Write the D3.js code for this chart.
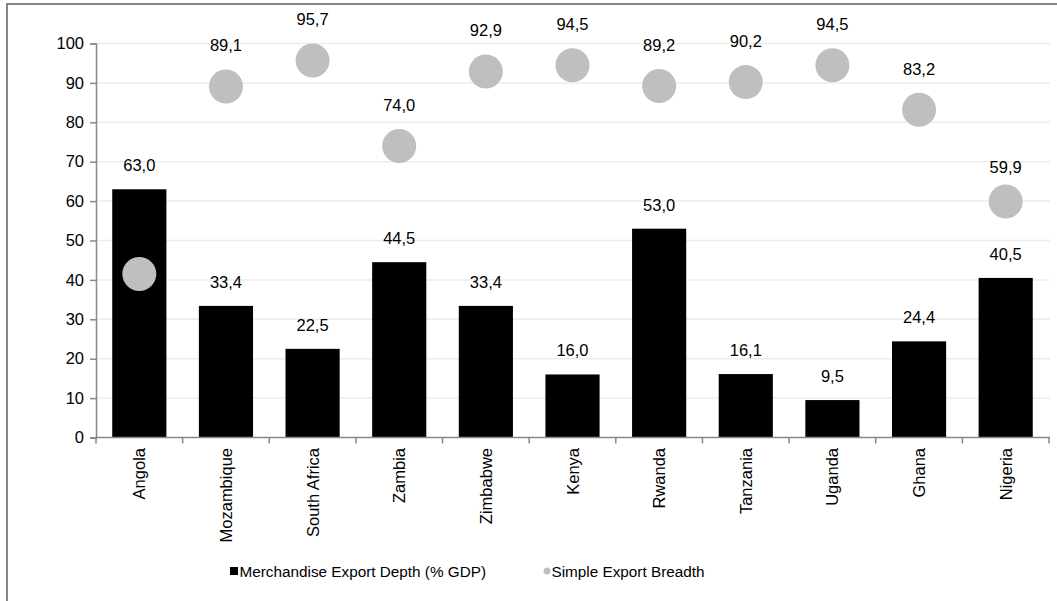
<!DOCTYPE html>
<html><head><meta charset="utf-8">
<script src="https://cdn.jsdelivr.net/npm/d3@7"></script>
<style>
html,body{margin:0;padding:0;background:#fff;}
svg text{font-family:"Liberation Sans",Arial,sans-serif;fill:#000;}
</style></head>
<body><svg id="c" width="1057" height="601"></svg>
<script>
const categories = ["Angola","Mozambique","South Africa","Zambia","Zimbabwe","Kenya","Rwanda","Tanzania","Uganda","Ghana","Nigeria"];
const exportDepth = [63.0,33.4,22.5,44.5,33.4,16.0,53.0,16.1,9.5,24.4,40.5];
const exportBreadth = [41.5,89.1,95.7,74.0,92.9,94.5,89.2,90.2,94.5,83.2,59.9];
const yTicks = [0,10,20,30,40,50,60,70,80,90,100];
const seriesNames = ["Merchandise Export Depth (% GDP)","Simple Export Breadth"];

const svg = d3.select("#c");
const fmt = v => d3.format(".1f")(v).replace(".", ",");
const FS = "16.5px";

// outer frame
svg.append("path").attr("d","M7,601 L7,4 L1057,4").attr("fill","none").attr("stroke","#868686").attr("stroke-width",2);

const x = d3.scaleBand().domain(categories).range([96,1049]).paddingInner(0.375).paddingOuter(0.1875);
const y = d3.scaleLinear().domain([0,100]).range([437.5,43.5]);

// gridlines
svg.append("g").selectAll("line").data(yTicks.filter(d=>d>0)).join("line")
  .attr("x1",96).attr("x2",1050).attr("y1",d=>y(d)).attr("y2",d=>y(d))
  .attr("stroke","#ececec").attr("stroke-width",1.5);

// bars
svg.append("g").selectAll("rect").data(categories).join("rect")
  .attr("x",d=>x(d)).attr("width",x.bandwidth())
  .attr("y",(d,i)=>y(exportDepth[i])).attr("height",(d,i)=>y(0)-y(exportDepth[i]))
  .attr("fill","#000");

// bar labels
svg.append("g").selectAll("text").data(categories).join("text")
  .attr("x",d=>x(d)+x.bandwidth()/2).attr("y",(d,i)=>y(exportDepth[i])-24)
  .attr("text-anchor","middle").attr("dominant-baseline","central")
  .style("font-size",FS).text((d,i)=>fmt(exportDepth[i]));

// dots
svg.append("g").selectAll("circle").data(categories).join("circle")
  .attr("cx",d=>x(d)+x.bandwidth()/2).attr("cy",(d,i)=>y(exportBreadth[i]))
  .attr("r",17).attr("fill","#bfbfbf");

// dot labels (black text; the Angola one falls on its black bar, as in the original)
const dotLabelOffset = {"Nigeria":34};
svg.append("g").selectAll("text").data(categories).join("text")
  .attr("x",d=>x(d)+x.bandwidth()/2).attr("y",(d,i)=>y(exportBreadth[i])-(dotLabelOffset[d]||41))
  .attr("text-anchor","middle").attr("dominant-baseline","central")
  .style("font-size",FS).text((d,i)=>fmt(exportBreadth[i]));

// y axis
const yAxis = svg.append("g").attr("transform","translate(96,0)")
  .call(d3.axisLeft(y).tickValues(yTicks).tickSize(6).tickPadding(6).tickFormat(d3.format("d")));
yAxis.select(".domain").attr("stroke","#888").attr("stroke-width",1.5);
yAxis.selectAll(".tick line").attr("stroke","#888").attr("stroke-width",1.5);
yAxis.selectAll("text").style("font-size",FS).style("font-family","Liberation Sans, Arial, sans-serif").attr("fill","#000");

// x axis
const xg = svg.append("g");
xg.append("line").attr("x1",96).attr("x2",1050).attr("y1",y(0)).attr("y2",y(0)).attr("stroke","#888").attr("stroke-width",1.5);
const bounds = categories.map(c=>x(c)-x.step()*x.paddingInner()/2);
bounds.push(1049);
xg.selectAll("line.t").data(bounds).join("line").attr("class","t")
  .attr("x1",d=>d).attr("x2",d=>d).attr("y1",y(0)).attr("y2",y(0)+6)
  .attr("stroke","#888").attr("stroke-width",1.5);
xg.selectAll("text").data(categories).join("text")
  .attr("transform",d=>`translate(${x(d)+x.bandwidth()/2},448) rotate(-90)`)
  .attr("text-anchor","end").attr("dominant-baseline","central")
  .style("font-size",FS).text(d=>d);

// legend
const lg = svg.append("g");
lg.append("rect").attr("x",230).attr("y",567).attr("width",8).attr("height",8).attr("fill","#000");
lg.append("text").attr("x",239.5).attr("y",571.5).attr("dominant-baseline","central").style("font-size","15.3px").text(seriesNames[0]);
lg.append("circle").attr("cx",547).attr("cy",571).attr("r",3.5).attr("fill","#bfbfbf");
lg.append("text").attr("x",551.5).attr("y",571.5).attr("dominant-baseline","central").style("font-size","15.3px").text(seriesNames[1]);
</script></body></html>
